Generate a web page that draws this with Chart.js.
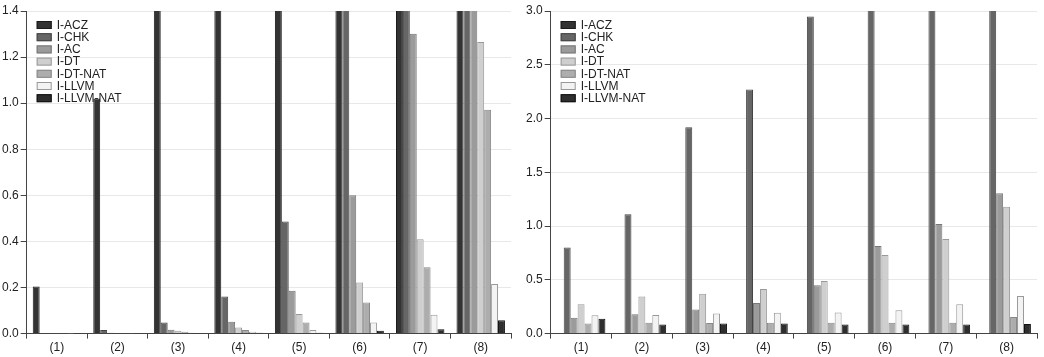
<!DOCTYPE html>
<html>
<head>
<meta charset="utf-8">
<script src="https://cdn.jsdelivr.net/npm/chart.js@4.4.0/dist/chart.umd.min.js"></script>
<style>
  html, body { margin: 0; padding: 0; background: #fff; }
  #wrap { position: relative; width: 1044px; height: 357px; }
  .panel { position: absolute; top: 0; height: 357px; }
</style>
</head>
<body>
<div id="wrap">
  <div class="panel" style="left:0;width:517px"><canvas id="leftChart" width="517" height="357"></canvas></div>
  <div class="panel" style="left:524px;width:520px"><canvas id="rightChart" width="520" height="357"></canvas></div>
</div>
<script>
// Categorías y series
const categories = ['(1)', '(2)', '(3)', '(4)', '(5)', '(6)', '(7)', '(8)'];
const seriesNames = ['I-ACZ', 'I-CHK', 'I-AC', 'I-DT', 'I-DT-NAT', 'I-LLVM', 'I-LLVM-NAT'];

// Gráfico izquierdo (los valores > 1.4 salen del eje, estimados)
const leftAcz     = [0.204, 1.02, 2.1, 2.6, 3.2, 3.9, 4.6, 5.5];
const leftChk     = [0.003, 0.016, 0.048, 0.161, 0.487, 1.9, 2.8, 3.6];
const leftAc      = [0.001, 0.004, 0.017, 0.051, 0.186, 0.600, 1.301, 2.1];
const leftDt      = [0.001, 0.003, 0.012, 0.026, 0.085, 0.222, 0.409, 1.266];
const leftDtNat   = [0.001, 0.002, 0.008, 0.016, 0.048, 0.135, 0.288, 0.971];
const leftLlvm    = [0.0005, 0.001, 0.004, 0.008, 0.016, 0.048, 0.082, 0.215];
const leftLlvmNat = [0.0005, 0.001, 0.002, 0.004, 0.004, 0.012, 0.019, 0.058];

// Gráfico derecho (I-CHK > 3.0 en (6)-(8), estimados)
const rightAcz     = [0, 0, 0, 0, 0, 0, 0, 0];
const rightChk     = [0.80, 1.11, 1.92, 2.27, 2.95, 3.5, 4.1, 4.8];
const rightAc      = [0.148, 0.179, 0.224, 0.285, 0.45, 0.815, 1.02, 1.306];
const rightDt      = [0.274, 0.346, 0.37, 0.415, 0.49, 0.73, 0.88, 1.18];
const rightDtNat   = [0.094, 0.10, 0.098, 0.10, 0.10, 0.10, 0.10, 0.155];
const rightLlvm    = [0.17, 0.173, 0.188, 0.195, 0.196, 0.217, 0.273, 0.35];
const rightLlvmNat = [0.139, 0.085, 0.093, 0.093, 0.084, 0.084, 0.084, 0.09];

// Estilos
const fillColors   = ['#333333', '#666666', '#9b9b9b', '#cfcfcf', '#adadad', '#f3f3f3', '#2e2e2e'];
const borderColors = ['#1a1a1a', '#444444', '#777777', '#999999', '#888888', '#999999', '#111111'];

Chart.defaults.font.family = '"Liberation Sans", Arial, sans-serif';
Chart.defaults.font.size = 12;
Chart.defaults.color = '#222';

// Leyenda dentro del área del gráfico
const insideLegend = {
  id: 'insideLegend',
  afterDraw(chart) {
    const { ctx, chartArea } = chart;
    ctx.save();
    ctx.font = '12px "Liberation Sans", Arial, sans-serif';
    ctx.textBaseline = 'middle';
    chart.data.datasets.forEach((ds, i) => {
      const x = chartArea.left + 10;
      const y = chartArea.top + 14 + i * 12.2;
      ctx.fillStyle = ds.backgroundColor;
      ctx.fillRect(x, y - 4, 15, 8);
      ctx.strokeStyle = ds.borderColor;
      ctx.lineWidth = 1;
      ctx.strokeRect(x + 0.5, y - 3.5, 14, 7);
      ctx.fillStyle = '#222';
      ctx.fillText(ds.label, x + 20, y + 0.5);
    });
    ctx.restore();
  }
};

function buildChart(id, series, yMax, yStep, padRight) {
  return new Chart(document.getElementById(id), {
    type: 'bar',
    data: {
      labels: categories,
      datasets: seriesNames.map((name, i) => ({
        label: name,
        data: series[i],
        backgroundColor: fillColors[i],
        borderColor: borderColors[i],
        borderWidth: 1,
        barPercentage: 1,
        categoryPercentage: 0.8,
        clip: 0
      }))
    },
    options: {
      responsive: false,
      animation: false,
      layout: { padding: { top: 11, right: padRight, bottom: 0, left: 0 } },
      plugins: { legend: { display: false }, tooltip: { enabled: false } },
      scales: {
        x: {
          grid: { drawOnChartArea: false, tickLength: 5, tickColor: '#444', offset: true },
          border: { color: '#444' },
          ticks: { padding: 2 }
        },
        y: {
          min: 0,
          max: yMax,
          ticks: { stepSize: yStep, padding: 2, callback: v => v.toFixed(1) },
          grid: { color: '#e8e8e8', tickColor: '#444', tickLength: 6 },
          border: { color: '#444' }
        }
      }
    },
    plugins: [insideLegend]
  });
}

const leftChart = buildChart('leftChart',
  [leftAcz, leftChk, leftAc, leftDt, leftDtNat, leftLlvm, leftLlvmNat], 1.4, 0.2, 6);
const rightChart = buildChart('rightChart',
  [rightAcz, rightChk, rightAc, rightDt, rightDtNat, rightLlvm, rightLlvmNat], 3.0, 0.5, 7);
</script>
</body>
</html>
